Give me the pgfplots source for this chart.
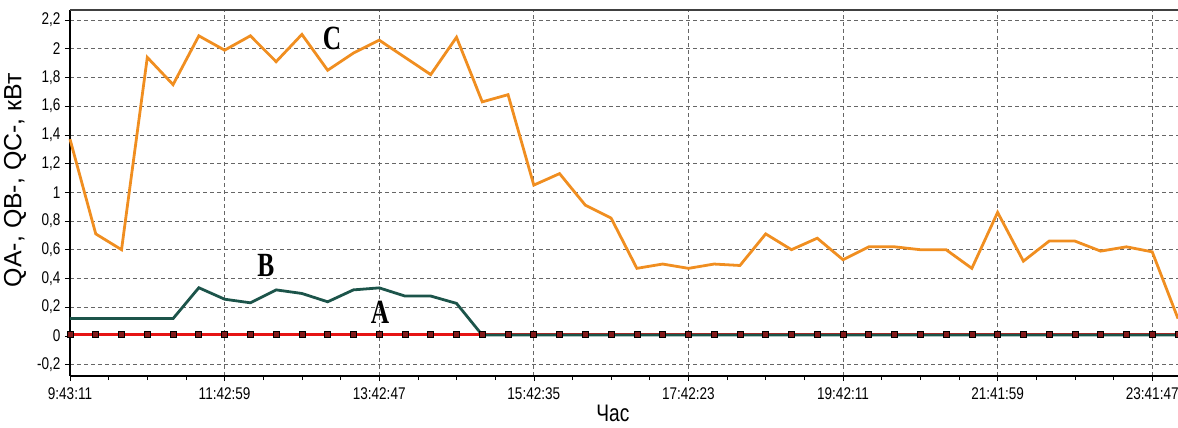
\documentclass[border=0pt]{standalone}
\usepackage{fontspec}
\setmainfont{Liberation Sans}
\newfontfamily\condsans{Liberation Sans}[FakeStretch=0.8]
\newfontfamily\condserif{Liberation Serif}[FakeStretch=0.75]
\usepackage{pgfplots}
\pgfplotsset{compat=1.18}
\definecolor{corange}{RGB}{240,142,32}
\definecolor{cgreen}{RGB}{28,84,74}
\definecolor{cred}{RGB}{230,20,20}
\definecolor{cmark}{RGB}{130,25,25}
\begin{document}
\begin{tikzpicture}
\path[use as bounding box] (-70bp,-52bp) rectangle (1108bp,376bp);
\begin{axis}[
  scale only axis,
  width=1108bp, height=366bp,
  xmin=0, xmax=43, ymin=-0.28, ymax=2.27,
  axis x line*=bottom, axis y line*=left,
  axis line style={black, line width=2.2pt},
  tick align=outside,
  tick style={black, line width=0.6pt},
  major tick length=5bp, minor tick length=4bp,
  xtick={0,6,...,42},
  xticklabels={9:43:11,11:42:59,13:42:47,15:42:35,17:42:23,19:42:11,21:41:59,23:41:47},
  minor x tick num=3,
  ytick={-0.2,0,0.2,0.4,0.6,0.8,1,1.2,1.4,1.6,1.8,2,2.2},
  yticklabels={{-0,2},{0},{0,2},{0,4},{0,6},{0,8},{1},{1,2},{1,4},{1,6},{1,8},{2},{2,2}},
  ticklabel style={font=\condsans\fontsize{17}{17}\selectfont, text=black},
  xticklabel style={yshift=-3bp},
  yticklabel style={xshift=-1bp},
  grid=major,
  major grid style={black!60, dash pattern=on 4bp off 3bp, line width=0.7pt},
  xlabel={Час},
  ylabel={QA-, QB-, QC-, кВт},
  every axis x label/.style={at={(axis description cs:0.49,-0.101)}, anchor=center, font=\condsans\fontsize{24}{24}\selectfont},
  every axis y label/.style={at={(axis description cs:-0.0496,0.535)}, rotate=90, anchor=center, font=\fontsize{25}{25}\selectfont},
  clip=false,
]
% A line
\addplot[cred, line width=2.8pt] coordinates {(0,0.01)(43,0.01)};
% B
\addplot[cgreen, line width=2.8pt] coordinates {
(0,0.12)(1,0.12)(2,0.12)(3,0.12)(4,0.12)(5,0.335)(6,0.255)(7,0.23)(8,0.32)(9,0.295)(10,0.237)(11,0.32)(12,0.334)(13,0.277)(14,0.277)(15,0.226)(16,0.005)
(17,0.005)(18,0.005)(19,0.005)(20,0.005)(21,0.005)(22,0.005)(23,0.005)(24,0.005)(25,0.005)(26,0.005)(27,0.005)(28,0.005)(29,0.005)(30,0.005)
(31,0.005)(32,0.005)(33,0.005)(34,0.005)(35,0.005)(36,0.005)(37,0.005)(38,0.005)(39,0.005)(40,0.005)(41,0.005)(42,0.005)(43,0.005)};
% A markers
\addplot[only marks, mark=square*, mark size=3bp, mark options={fill=cmark, draw=black, line width=0.7pt}] coordinates {
(0,0.01)(1,0.01)(2,0.01)(3,0.01)(4,0.01)(5,0.01)(6,0.01)(7,0.01)(8,0.01)(9,0.01)(10,0.01)(11,0.01)(12,0.01)(13,0.01)(14,0.01)(15,0.01)
(16,0.01)(17,0.01)(18,0.01)(19,0.01)(20,0.01)(21,0.01)(22,0.01)(23,0.01)(24,0.01)(25,0.01)(26,0.01)(27,0.01)(28,0.01)(29,0.01)(30,0.01)
(31,0.01)(32,0.01)(33,0.01)(34,0.01)(35,0.01)(36,0.01)(37,0.01)(38,0.01)(39,0.01)(40,0.01)(41,0.01)(42,0.01)(43,0.01)};
% C
\addplot[corange, line width=2.8pt] coordinates {
(0,1.37)(1,0.71)(2,0.60)(3,1.94)(4,1.75)(5,2.09)(6,1.99)(7,2.09)(8,1.91)(9,2.10)(10,1.85)(11,1.97)(12,2.06)(13,1.94)(14,1.82)(15,2.08)
(16,1.63)(17,1.68)(18,1.05)(19,1.13)(20,0.91)(21,0.82)(22,0.47)(23,0.50)(24,0.47)(25,0.50)(26,0.49)(27,0.71)(28,0.60)(29,0.68)(30,0.53)
(31,0.62)(32,0.62)(33,0.60)(34,0.60)(35,0.47)(36,0.86)(37,0.52)(38,0.66)(39,0.66)(40,0.59)(41,0.62)(42,0.585)(43,0.12)};
\node[font=\condserif\bfseries\fontsize{34}{34}\selectfont] at (axis cs:10.17,2.07) {C};
\node[font=\condserif\bfseries\fontsize{34}{34}\selectfont] at (axis cs:7.6,0.49) {B};
\node[font=\condserif\bfseries\fontsize{34}{34}\selectfont] at (axis cs:12.03,0.165) {A};
\draw[black!75, line width=1.4pt] (rel axis cs:0,1) -- (rel axis cs:1,1);
\end{axis}
\end{tikzpicture}
\end{document}
